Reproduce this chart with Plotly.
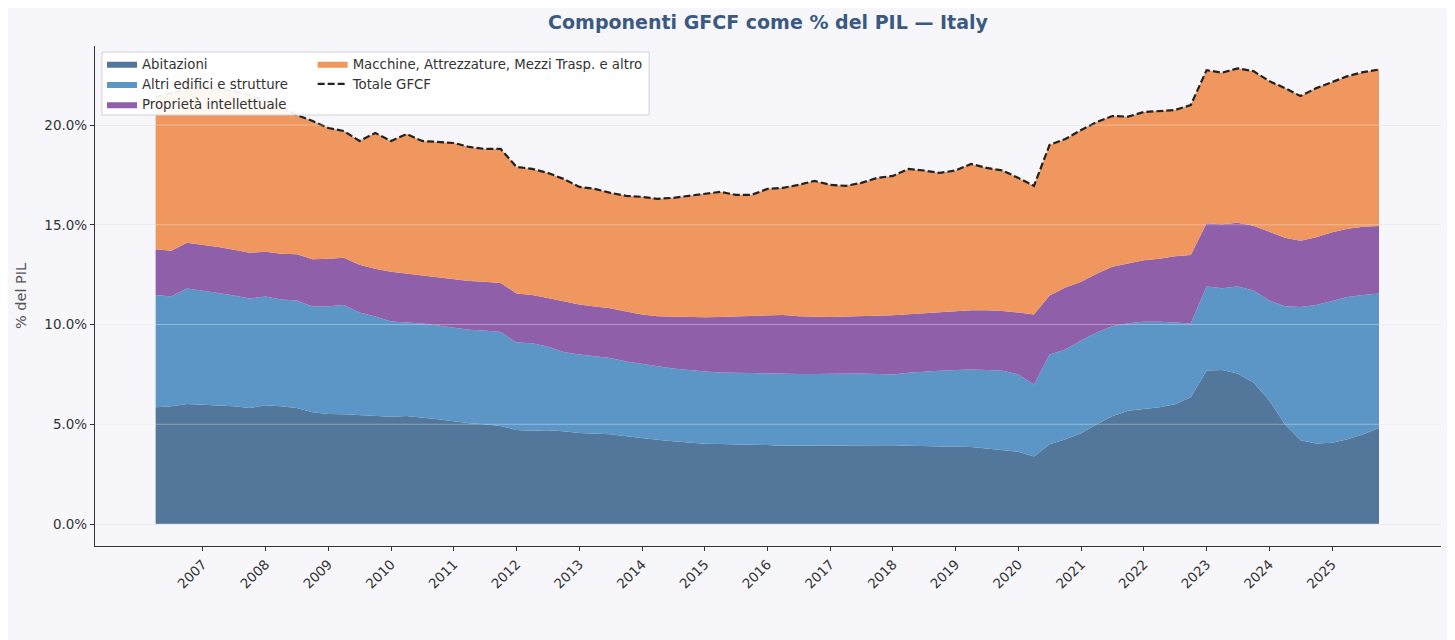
import plotly.graph_objects as go
import pandas as pd

# Quarterly periods (2006Q2 .. 2025Q4)
quarters = pd.period_range("2006Q2", "2025Q4", freq="Q").to_timestamp()

abitazioni = [5.85, 5.90, 6.02, 5.98, 5.95, 5.90, 5.82, 5.95, 5.90, 5.82,
              5.60, 5.52, 5.50, 5.45, 5.40, 5.38, 5.42, 5.35, 5.25, 5.15,
              5.05, 5.00, 4.92, 4.72, 4.68, 4.70, 4.65, 4.56, 4.54, 4.50,
              4.40, 4.30, 4.22, 4.15, 4.08, 4.02, 4.01, 4.00, 3.98, 3.96,
              3.93, 3.92, 3.92, 3.94, 3.95, 3.96, 3.96, 3.95, 3.92, 3.90,
              3.89, 3.88, 3.86, 3.79, 3.72, 3.62, 3.38, 4.00, 4.25, 4.55,
              5.00, 5.40, 5.68, 5.78, 5.85, 6.00, 6.35, 7.70, 7.72, 7.55,
              7.10, 6.20, 5.00, 4.20, 4.04, 4.08, 4.25, 4.50, 4.82]

altri_edifici = [5.63, 5.50, 5.78, 5.72, 5.63, 5.55, 5.48, 5.45, 5.35, 5.38,
                 5.30, 5.40, 5.48, 5.15, 5.00, 4.77, 4.68, 4.70, 4.70, 4.70,
                 4.69, 4.70, 4.70, 4.38, 4.38, 4.20, 3.97, 3.94, 3.86, 3.82,
                 3.75, 3.72, 3.68, 3.65, 3.64, 3.62, 3.59, 3.58, 3.60, 3.59,
                 3.60, 3.60, 3.60, 3.59, 3.60, 3.58, 3.56, 3.55, 3.66, 3.74,
                 3.79, 3.84, 3.88, 3.93, 3.96, 3.88, 3.62, 4.50, 4.50, 4.65,
                 4.60, 4.52, 4.38, 4.36, 4.29, 4.10, 3.70, 4.20, 4.10, 4.35,
                 4.60, 5.00, 5.92, 6.68, 6.94, 7.10, 7.13, 6.98, 6.74]

proprieta_intellettuale = [2.29, 2.30, 2.30, 2.30, 2.30, 2.30, 2.30, 2.25, 2.30, 2.32,
                           2.37, 2.38, 2.37, 2.40, 2.40, 2.50, 2.45, 2.40, 2.40, 2.40,
                           2.44, 2.45, 2.46, 2.46, 2.42, 2.43, 2.54, 2.50, 2.50, 2.50,
                           2.50, 2.48, 2.52, 2.60, 2.66, 2.72, 2.78, 2.82, 2.87, 2.92,
                           2.95, 2.90, 2.87, 2.85, 2.85, 2.88, 2.92, 2.96, 2.94, 2.94,
                           2.94, 2.94, 2.98, 3.00, 3.00, 3.10, 3.50, 2.95, 3.10, 2.95,
                           2.95, 2.98, 3.01, 3.08, 3.16, 3.32, 3.43, 3.17, 3.20, 3.20,
                           3.25, 3.45, 3.43, 3.32, 3.40, 3.44, 3.42, 3.42, 3.38]

macchine = [7.63, 7.90, 7.70, 7.90, 7.92, 7.95, 7.90, 7.55, 7.35, 6.98,
            6.93, 6.55, 6.35, 6.20, 6.80, 6.55, 7.00, 6.75, 6.80, 6.85,
            6.72, 6.65, 6.72, 6.34, 6.32, 6.27, 6.14, 5.90, 5.90, 5.78,
            5.80, 5.90, 5.88, 5.95, 6.07, 6.19, 6.27, 6.10, 6.05, 6.33,
            6.37, 6.58, 6.81, 6.62, 6.55, 6.68, 6.91, 6.99, 7.28, 7.14,
            6.98, 7.06, 7.33, 7.13, 7.04, 6.75, 6.45, 7.55, 7.45, 7.60,
            7.60, 7.55, 7.35, 7.43, 7.40, 7.33, 7.52, 7.68, 7.60, 7.74,
            7.75, 7.55, 7.50, 7.25, 7.47, 7.53, 7.65, 7.75, 7.84]

totale = [round(a + b + c + d, 2) for a, b, c, d in
          zip(abitazioni, altri_edifici, proprieta_intellettuale, macchine)]

year_ticks = list(range(2007, 2026))
y_ticks = [0, 5, 10, 15, 20]

names = ["Abitazioni", "Altri edifici e strutture", "Proprietà intellettuale",
         "Macchine, Attrezzature, Mezzi Trasp. e altro"]
colors = ["#53779a", "#5b96c6", "#8f5fa9", "#ef975e"]
series = [abitazioni, altri_edifici, proprieta_intellettuale, macchine]
legends = ["legend", "legend", "legend", "legend2"]

FONT = "DejaVu Sans"
BG = "#f7f7fb"
W, H = 1447, 632  # page body keeps an 8px margin

fig = go.Figure()
for name, col, s, lg in zip(names, colors, series, legends):
    fig.add_trace(go.Scatter(
        x=quarters, y=s, name=name, mode="lines", stackgroup="one",
        line=dict(width=0, color=col), fillcolor=col, legend=lg,
    ))

fig.add_trace(go.Scatter(
    x=quarters, y=totale, name="Totale GFCF", mode="lines",
    line=dict(color="#222222", width=2.2, dash="7px,3px"), legend="legend2",
))

# light grid lines drawn over the areas
for v in y_ticks:
    fig.add_shape(type="line", xref="paper", x0=0, x1=1, yref="y", y0=v, y1=v,
                  line=dict(color="rgba(255,255,255,0.35)", width=1), layer="above")

# combined legend frame
fig.add_shape(type="rect", xref="paper", yref="paper",
              x0=0.0052, x1=0.4117, y0=0.862, y1=0.988,
              fillcolor="rgba(255,255,255,0.93)", line=dict(color="#d0d0dc", width=1),
              layer="above")

fig.update_layout(
    width=W, height=H,
    margin=dict(l=85, r=14, t=38, b=94),
    paper_bgcolor=BG, plot_bgcolor=BG,
    font=dict(family=FONT, size=13, color="#333333"),
    title=dict(text="<b>Componenti GFCF come % del PIL — Italy</b>",
               x=0.5, xref="paper", xanchor="center", y=1 - 14 / H, yanchor="middle",
               font=dict(family=FONT, size=19, color="#3a5a82")),
    showlegend=True,
    legend=dict(x=0.0052, y=0.995, xanchor="left", yanchor="top",
                traceorder="normal",
                bgcolor="rgba(0,0,0,0)", borderwidth=0, tracegroupgap=0,
                font=dict(family=FONT, size=13.3, color="#333333")),
    legend2=dict(x=0.1617, y=0.995, xanchor="left", yanchor="top",
                 traceorder="normal",
                 bgcolor="rgba(0,0,0,0)", borderwidth=0, tracegroupgap=0,
                 font=dict(family=FONT, size=13.3, color="#333333")),
)

fig.update_xaxes(
    type="date",
    range=["2005-04-13", "2026-09-27"],
    tickvals=[f"{y}-01-01" for y in year_ticks],
    ticktext=[str(y) for y in year_ticks],
    tickangle=-45,
    ticks="outside", ticklen=4, tickcolor="#333333",
    showline=True, linecolor="#333333", linewidth=1.2,
    showgrid=False, zeroline=False,
    tickfont=dict(family=FONT, size=13.5, color="#333333"),
)
fig.update_yaxes(
    range=[-1.10, 23.96],
    tickvals=y_ticks,
    ticktext=[f"{v:.1f}%" for v in y_ticks],
    ticks="outside", ticklen=4, tickcolor="#333333",
    showline=True, linecolor="#333333", linewidth=1.2,
    showgrid=True, gridcolor="#e6e6ee", gridwidth=1, zeroline=False,
    tickfont=dict(family=FONT, size=13.5, color="#333333"),
    title=dict(text="% del PIL", font=dict(family=FONT, size=14.5, color="#555555"),
               standoff=14),
)

fig.write_html("out.html")
